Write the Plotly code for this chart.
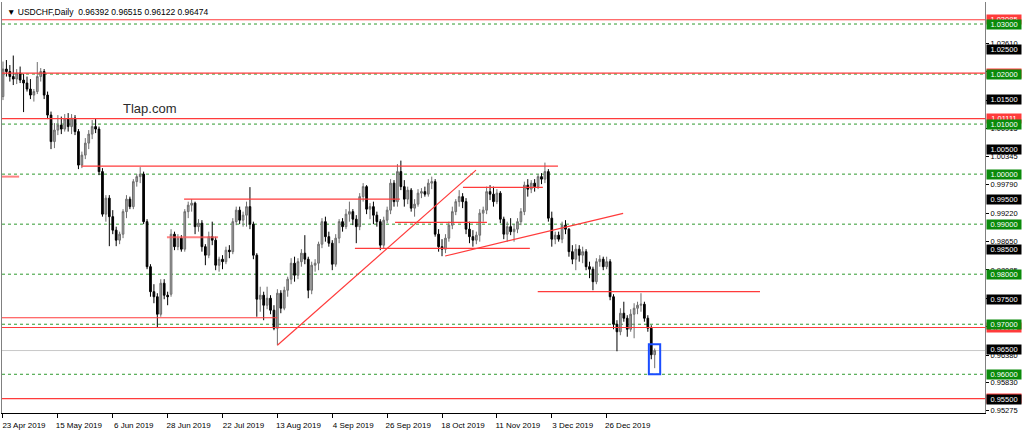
import plotly.graph_objects as go

# USDCHF daily candles, bar 0 = 23 Apr 2019
opens = [
    1.0155, 1.0210, 1.0205, 1.0195, 1.0190, 1.0202, 1.0188, 1.0182, 1.0170, 1.0158,
    1.0165, 1.0195, 1.0205, 1.0158, 1.0118, 1.0065, 1.0088, 1.0098, 1.0090, 1.0110,
    1.0095, 1.0112, 1.0085, 1.0018, 1.0038, 1.0062, 1.0080, 1.0095, 1.0090, 1.0005,
    0.9920, 0.9952, 0.9915, 0.9888, 0.9868, 0.9880, 0.9925, 0.9950, 0.9935, 0.9985,
    0.9995, 1.0000, 0.9905, 0.9815, 0.9765, 0.9755, 0.9720, 0.9782, 0.9758, 0.9760,
    0.9880, 0.9855, 0.9872, 0.9850, 0.9925, 0.9938, 0.9942, 0.9895, 0.9902, 0.9855,
    0.9838, 0.9875, 0.9868, 0.9818, 0.9830, 0.9825, 0.9848, 0.9845, 0.9905, 0.9928,
    0.9908, 0.9918, 0.9935, 0.9900, 0.9838, 0.9750, 0.9758, 0.9738, 0.9752, 0.9728,
    0.9692, 0.9762, 0.9732, 0.9768, 0.9790, 0.9822, 0.9798, 0.9825, 0.9842, 0.9830,
    0.9768, 0.9818, 0.9822, 0.9860, 0.9905, 0.9875, 0.9862, 0.9820, 0.9872, 0.9905,
    0.9895, 0.9920, 0.9925, 0.9910, 0.9895, 0.9955, 0.9975, 0.9930, 0.9935, 0.9918,
    0.9905, 0.9858, 0.9908, 0.9928, 0.9982, 0.9945, 1.0005, 0.9975, 0.9950, 0.9968,
    0.9932, 0.9940, 0.9962, 0.9965, 0.9960, 0.9982, 0.9985, 0.9880, 0.9855, 0.9850,
    0.9872, 0.9898, 0.9925, 0.9945, 0.9955, 0.9945, 0.9890, 0.9875, 0.9868, 0.9878,
    0.9922, 0.9928, 0.9965, 0.9960, 0.9945, 0.9962, 0.9910, 0.9880, 0.9895, 0.9885,
    0.9890, 0.9905, 0.9925, 0.9978, 0.9970, 0.9982, 0.9975, 0.9995, 0.9990, 1.0005,
    0.9912, 0.9870, 0.9878, 0.9870, 0.9898, 0.9890, 0.9845, 0.9830, 0.9850, 0.9838,
    0.9845, 0.9815, 0.9810, 0.9785, 0.9825, 0.9830, 0.9815, 0.9825, 0.9755, 0.9700,
    0.9685, 0.9722, 0.9712, 0.9690, 0.9720, 0.9732, 0.9738, 0.9740, 0.9712, 0.9692,
    0.96392,
]
highs = [
    1.0225, 1.0228, 1.0218, 1.0237, 1.0210, 1.0215, 1.0200, 1.0195, 1.0190, 1.0170,
    1.0224, 1.0212, 1.0210, 1.0165, 1.0125, 1.0102, 1.0118, 1.0115, 1.0120, 1.0122,
    1.0120, 1.0118, 1.0090, 1.0045, 1.0072, 1.0088, 1.0108, 1.0110, 1.0095, 1.0012,
    0.9958, 0.9958, 0.9928, 0.9895, 0.9885, 0.9930, 0.9958, 0.9955, 0.9990, 1.0000,
    1.0014, 1.0005, 0.9910, 0.9820, 0.9780, 0.9762, 0.9790, 0.9790, 0.9765, 0.9890,
    0.9885, 0.9880, 0.9878, 0.9930, 0.9945, 0.9950, 0.9945, 0.9910, 0.9908, 0.9860,
    0.9885, 0.9905, 0.9875, 0.9835, 0.9838, 0.9855, 0.9858, 0.9912, 0.9935, 0.9935,
    0.9925, 0.9945, 0.9974, 0.9905, 0.9842, 0.9775, 0.9765, 0.9775, 0.9758, 0.9738,
    0.9770, 0.9768, 0.9775, 0.9795, 0.9832, 0.9835, 0.9832, 0.9850, 0.9878, 0.9835,
    0.9825, 0.9830, 0.9865, 0.9912, 0.9915, 0.9885, 0.9868, 0.9880, 0.9910, 0.9912,
    0.9930, 0.9945, 0.9930, 0.9918, 0.9962, 0.9982, 0.9978, 0.9942, 0.9945, 0.9925,
    0.9910, 0.9915, 0.9935, 0.9990, 0.9988, 1.0020, 1.0027, 0.9988, 0.9975, 0.9972,
    0.9950, 0.9970, 0.9972, 0.9975, 0.9990, 0.9995, 0.9990, 0.9890, 0.9870, 0.9880,
    0.9905, 0.9935, 0.9950, 0.9968, 0.9962, 0.9952, 0.9905, 0.9888, 0.9885, 0.9930,
    0.9935, 0.9975, 0.9978, 0.9975, 0.9970, 0.9966, 0.9915, 0.9905, 0.9912, 0.9900,
    0.9912, 0.9932, 0.9985, 0.9990, 0.9988, 0.9990, 1.0000, 1.0002, 1.0023, 1.0010,
    0.9925, 0.9885, 0.9885, 0.9905, 0.9908, 0.9892, 0.9858, 0.9860, 0.9858, 0.9855,
    0.9850, 0.9825, 0.9815, 0.9832, 0.9838, 0.9835, 0.9835, 0.9830, 0.9760, 0.9708,
    0.9732, 0.9745, 0.9718, 0.9730, 0.9742, 0.9745, 0.9762, 0.9745, 0.9718, 0.9698,
    0.96515,
]
lows = [
    1.0148, 1.0195, 1.0185, 1.0178, 1.0180, 1.0182, 1.0124, 1.0165, 1.0150, 1.0145,
    1.0160, 1.0185, 1.0150, 1.0110, 1.0050, 1.0052, 1.0078, 1.0080, 1.0085, 1.0085,
    1.0080, 1.0078, 1.0010, 1.0012, 1.0030, 1.0050, 1.0070, 1.0082, 0.9998, 0.9915,
    0.9905, 0.9856, 0.9880, 0.9856, 0.9860, 0.9872, 0.9912, 0.9930, 0.9930, 0.9975,
    0.9982, 0.9900, 0.9810, 0.9755, 0.9742, 0.9693, 0.9715, 0.9750, 0.9738, 0.9755,
    0.9848, 0.9848, 0.9845, 0.9845, 0.9912, 0.9925, 0.9880, 0.9885, 0.9845, 0.9818,
    0.9832, 0.9858, 0.9808, 0.9805, 0.9810, 0.9820, 0.9832, 0.9840, 0.9898, 0.9900,
    0.9895, 0.9895, 0.9890, 0.9830, 0.9715, 0.9725, 0.9708, 0.9730, 0.9720, 0.9688,
    0.9658, 0.9722, 0.9728, 0.9755, 0.9780, 0.9785, 0.9790, 0.9815, 0.9820, 0.9752,
    0.9760, 0.9805, 0.9808, 0.9852, 0.9865, 0.9855, 0.9808, 0.9815, 0.9862, 0.9885,
    0.9890, 0.9905, 0.9898, 0.9862, 0.9888, 0.9945, 0.9920, 0.9910, 0.9900, 0.9895,
    0.9848, 0.9852, 0.9902, 0.9920, 0.9935, 0.9935, 0.9968, 0.9935, 0.9940, 0.9925,
    0.9915, 0.9935, 0.9952, 0.9955, 0.9955, 0.9970, 0.9875, 0.9845, 0.9836, 0.9842,
    0.9865, 0.9890, 0.9918, 0.9935, 0.9932, 0.9880, 0.9862, 0.9855, 0.9860, 0.9865,
    0.9905, 0.9920, 0.9948, 0.9935, 0.9940, 0.9902, 0.9870, 0.9865, 0.9878, 0.9865,
    0.9882, 0.9898, 0.9918, 0.9955, 0.9962, 0.9965, 0.9970, 0.9980, 0.9982, 0.9905,
    0.9855, 0.9860, 0.9865, 0.9862, 0.9880, 0.9835, 0.9820, 0.9808, 0.9825, 0.9822,
    0.9808, 0.9792, 0.9768, 0.9780, 0.9815, 0.9808, 0.9810, 0.9748, 0.9690, 0.9646,
    0.9678, 0.9705, 0.9675, 0.9685, 0.9672, 0.9720, 0.9725, 0.9705, 0.9685, 0.9630,
    0.96122,
]
closes = [
    1.0210, 1.0205, 1.0195, 1.0190, 1.0202, 1.0188, 1.0182, 1.0170, 1.0158, 1.0165,
    1.0195, 1.0205, 1.0158, 1.0118, 1.0065, 1.0088, 1.0098, 1.0090, 1.0110, 1.0095,
    1.0112, 1.0085, 1.0018, 1.0038, 1.0062, 1.0080, 1.0095, 1.0090, 1.0005, 0.9920,
    0.9952, 0.9915, 0.9888, 0.9868, 0.9880, 0.9925, 0.9950, 0.9935, 0.9985, 0.9995,
    1.0000, 0.9905, 0.9815, 0.9765, 0.9755, 0.9720, 0.9782, 0.9758, 0.9755, 0.9880,
    0.9855, 0.9872, 0.9850, 0.9925, 0.9938, 0.9942, 0.9895, 0.9902, 0.9855, 0.9838,
    0.9875, 0.9868, 0.9818, 0.9830, 0.9825, 0.9848, 0.9845, 0.9905, 0.9928, 0.9908,
    0.9918, 0.9935, 0.9900, 0.9838, 0.9750, 0.9758, 0.9738, 0.9752, 0.9728, 0.9692,
    0.9762, 0.9732, 0.9768, 0.9790, 0.9822, 0.9798, 0.9825, 0.9842, 0.9830, 0.9768,
    0.9818, 0.9822, 0.9860, 0.9905, 0.9875, 0.9862, 0.9820, 0.9872, 0.9905, 0.9895,
    0.9920, 0.9925, 0.9910, 0.9895, 0.9955, 0.9975, 0.9930, 0.9935, 0.9918, 0.9905,
    0.9858, 0.9908, 0.9928, 0.9982, 0.9945, 1.0005, 0.9975, 0.9950, 0.9968, 0.9932,
    0.9940, 0.9962, 0.9965, 0.9960, 0.9982, 0.9985, 0.9880, 0.9855, 0.9850, 0.9872,
    0.9898, 0.9925, 0.9945, 0.9955, 0.9945, 0.9890, 0.9875, 0.9868, 0.9878, 0.9922,
    0.9928, 0.9965, 0.9960, 0.9945, 0.9962, 0.9910, 0.9880, 0.9895, 0.9885, 0.9890,
    0.9905, 0.9925, 0.9978, 0.9970, 0.9982, 0.9975, 0.9995, 0.9990, 1.0005, 0.9912,
    0.9870, 0.9878, 0.9870, 0.9898, 0.9890, 0.9845, 0.9830, 0.9850, 0.9838, 0.9845,
    0.9815, 0.9810, 0.9785, 0.9825, 0.9830, 0.9815, 0.9825, 0.9755, 0.9700, 0.9685,
    0.9722, 0.9712, 0.9690, 0.9720, 0.9732, 0.9738, 0.9740, 0.9712, 0.9692, 0.9639,
    0.96474,
]

# date labels, one every 16 bars
tick_step = 16
tick_labels = ["23 Apr 2019", "15 May 2019", "6 Jun 2019", "28 Jun 2019", "22 Jul 2019",
               "13 Aug 2019", "4 Sep 2019", "26 Sep 2019", "18 Oct 2019", "11 Nov 2019",
               "3 Dec 2019", "26 Dec 2019"]

# price scale labels
price_ticks = [0.95275, 0.95830, 0.96380, 0.96945, 0.97515, 0.98085, 0.98650, 0.99220,
               0.99790, 1.00345, 1.00915, 1.01480, 1.02045, 1.02610]

# horizontal levels
green_levels = [1.03, 1.02, 1.01, 1.00, 0.99, 0.98, 0.97, 0.96]
black_levels = [1.025, 1.015, 1.005, 0.995, 0.985, 0.975, 0.965, 0.955]
red_levels = [1.03085, 1.0202, 1.01111, 0.96935, 0.95515]
bid_price = 0.96474

# trend lines: (bar start, price start, bar end, price end)
trend_lines = [
    (22.9, 1.0016, 161.8, 1.0016),
    (52.8, 0.9950, 115.7, 0.9950),
    (-0.5, 0.9713, 80.0, 0.9713),
    (80.0, 0.9658, 137.9, 1.0008),
    (128.9, 0.98363, 180.8, 0.99217),
    (102.6, 0.98518, 153.6, 0.98518),
    (114.3, 0.99037, 141.1, 0.99037),
    (134.1, 0.99737, 157.4, 0.99737),
    (155.9, 0.97650, 220.7, 0.97650),
]
soft_lines = [
    (47.8, 0.9874, 62.7, 0.9874),
    (-0.5, 0.9995, 4.7, 0.9995),
]
last_bar_box = (188.3, 0.96599, 191.6, 0.95999)

RED = "#ff3b3b"
GREEN = "#2f9a2f"
FONT = "Liberation Sans, Arial, sans-serif"

bars = list(range(len(closes)))

fig = go.Figure(go.Candlestick(
    x=bars, open=opens, high=highs, low=lows, close=closes,
    increasing=dict(line=dict(color="#6e6e6e", width=1), fillcolor="#a4a4a4"),
    decreasing=dict(line=dict(color="#000000", width=1), fillcolor="#000000"),
    whiskerwidth=0,
    hoverinfo="skip",
))

shapes = []
for p in green_levels:
    shapes.append(dict(type="line", xref="paper", x0=0, x1=1, yref="y", y0=p, y1=p,
                       line=dict(color=GREEN, width=1, dash="3px,3px"), layer="below"))
shapes.append(dict(type="line", xref="paper", x0=0, x1=1, yref="y", y0=bid_price, y1=bid_price,
                   line=dict(color="#c8c8c8", width=1), layer="below"))
for p in red_levels:
    shapes.append(dict(type="line", xref="paper", x0=0, x1=1, yref="y", y0=p, y1=p,
                       line=dict(color=RED, width=1.2)))
for x0, y0, x1, y1 in trend_lines:
    shapes.append(dict(type="line", xref="x", yref="y", x0=x0, y0=y0, x1=x1, y1=y1,
                       line=dict(color=RED, width=1.2)))
for x0, y0, x1, y1 in soft_lines:
    shapes.append(dict(type="line", xref="x", yref="y", x0=x0, y0=y0, x1=x1, y1=y1,
                       line=dict(color="rgba(255,90,90,0.75)", width=2)))
bx0, by0, bx1, by1 = last_bar_box
shapes.append(dict(type="rect", xref="x", yref="y", x0=bx0, y0=by0, x1=bx1, y1=by1,
                   line=dict(color="#1a4dff", width=2)))

# price boxes on the scale (red first so green/black sit on top)
boxes = [(p, RED) for p in red_levels] + [(p, "#0a8a0a") for p in green_levels] \
    + [(p, "#000000") for p in black_levels]
annotations = [dict(xref="paper", x=1, xanchor="left", xshift=1, yref="y", y=p,
                    yanchor="middle", text=f"{p:.5f}", showarrow=False,
                    font=dict(family=FONT, size=7.5, color="white"),
                    bgcolor=c, width=34, height=9, borderpad=0)
               for p, c in boxes]

annotations.append(dict(xref="paper", yref="paper", x=0, y=1, xanchor="left", yanchor="top",
                        xshift=3, yshift=-3, showarrow=False,
                        text="\u25bc USDCHF,Daily  0.96392 0.96515 0.96122 0.96474",
                        font=dict(family=FONT, size=8.5, color="#000000")))
annotations.append(dict(xref="paper", yref="paper", x=0.121, y=0.742,
                        xanchor="left", yanchor="middle", showarrow=False,
                        text="Tlap.com", font=dict(family=FONT, size=13, color="#2b2b2b")))

fig.update_layout(
    width=1024, height=432,
    margin=dict(l=2, r=39, t=2, b=19),
    paper_bgcolor="white", plot_bgcolor="white",
    showlegend=False, hovermode=False,
    shapes=shapes, annotations=annotations,
    font=dict(family=FONT, size=8, color="#000000"),
)
fig.update_xaxes(
    range=[-0.29, 286.3],
    tickvals=[i * tick_step for i in range(len(tick_labels))],
    ticktext=tick_labels,
    ticks="outside", ticklen=4, tickcolor="#000000",
    ticklabelshift=21,
    tickfont=dict(family=FONT, size=8),
    showgrid=False, zeroline=False,
    showline=True, linecolor="#000000", linewidth=1,
    rangeslider=dict(visible=False),
)
fig.update_yaxes(
    side="right",
    range=[0.95226, 1.0344],
    tickvals=price_ticks,
    ticktext=[f"{v:.5f}" for v in price_ticks],
    ticks="outside", ticklen=3, tickcolor="#000000",
    tickfont=dict(family=FONT, size=7.5),
    showgrid=False, zeroline=False,
    showline=True, linecolor="#808080", linewidth=1, mirror=True,
)

fig.write_html("out.html", config={"displayModeBar": False},
               post_script="document.body.style.margin='0';document.body.style.overflow='hidden';")
